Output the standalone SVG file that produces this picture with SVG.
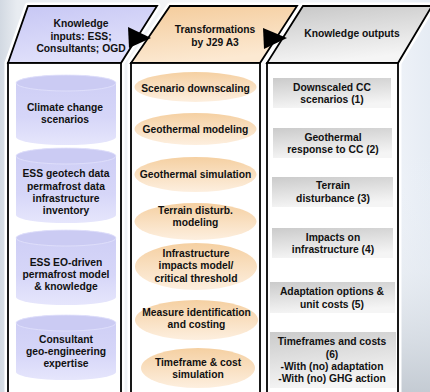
<svg xmlns="http://www.w3.org/2000/svg" width="430" height="392" viewBox="0 0 430 392">
<defs>
<linearGradient id="bg" x1="0" y1="0" x2="1" y2="0">
<stop offset="0" stop-color="#d2d9e2"/>
<stop offset="0.04" stop-color="#e8ecf1"/>
<stop offset="0.5" stop-color="#f6f7f9"/>
<stop offset="0.92" stop-color="#eef2f8"/>
<stop offset="1" stop-color="#e6ecf4"/>
</linearGradient>
<linearGradient id="rbg" x1="0" y1="0" x2="0" y2="1">
<stop offset="0" stop-color="#eef3fa" stop-opacity="0"/>
<stop offset="0.5" stop-color="#e4e9ef" stop-opacity="0.5"/>
<stop offset="1" stop-color="#c4cbd3"/>
</linearGradient>
<linearGradient id="top1" x1="0" y1="0" x2="0.4" y2="1">
<stop offset="0" stop-color="#c6c6f4"/>
<stop offset="1" stop-color="#e2e2fb"/>
</linearGradient>
<linearGradient id="top2" x1="0" y1="0" x2="0.3" y2="1">
<stop offset="0" stop-color="#f4cb9a"/>
<stop offset="1" stop-color="#fce9d2"/>
</linearGradient>
<linearGradient id="top3" x1="0" y1="0" x2="0.3" y2="1">
<stop offset="0" stop-color="#c6c6c6"/>
<stop offset="1" stop-color="#f5f5f5"/>
</linearGradient>
<linearGradient id="cyl" x1="0" y1="0" x2="0" y2="1">
<stop offset="0" stop-color="#cdcdf5"/>
<stop offset="0.6" stop-color="#d6d6f8"/>
<stop offset="1" stop-color="#e6e6fc"/>
</linearGradient>
<linearGradient id="ell" x1="0" y1="0" x2="0" y2="1">
<stop offset="0" stop-color="#f5d0a2"/>
<stop offset="1" stop-color="#fdefdf"/>
</linearGradient>
<linearGradient id="box" x1="0" y1="0" x2="0.25" y2="1">
<stop offset="0" stop-color="#cbcbcb"/>
<stop offset="1" stop-color="#f5f5f5"/>
</linearGradient>
</defs>
<style>
text{font-family:"Liberation Sans",Arial,sans-serif;font-weight:bold;font-size:10.3px;fill:#111;text-anchor:middle}
.halo{fill:#fff;stroke:#fff;stroke-width:7;stroke-linejoin:round}
.edge{stroke:#000;stroke-width:1.8;stroke-linejoin:miter}
.front{fill:#fff}
.cyl{fill:url(#cyl)}
.cyltop{fill:#cbcbf3;stroke:#e2e2fb;stroke-width:0.8}
.ell{fill:url(#ell)}
.box{fill:url(#box)}
.arrow{fill:#000}
</style>
<rect x="0" y="0" width="430" height="392" fill="url(#bg)"/>
<rect x="398" y="150" width="32" height="242" fill="url(#rbg)"/>

<g id="halos">
<polygon class="halo" points="28,6 157,6 121,63 121,400 8,400 8,63"/>
<polygon class="halo" points="170,6 297,6 260,63 260,400 131,400 131,63"/>
<polygon class="halo" points="303,6 432,6 398,63 398,400 267,400 267,63"/>
</g>

<g id="column-inputs">
<polygon class="edge" fill="url(#top1)" points="28,6 157,6 121,63 8,63"/>
<rect class="front edge" x="8" y="63" width="113" height="340"/>
<text x="81" y="27">Knowledge</text>
<text x="81" y="39.5">inputs: ESS;</text>
<text x="81" y="52">Consultants; OGD</text>
</g>

<g id="column-transformations">
<polygon class="edge" fill="url(#top2)" points="170,6 297,6 260,63 131,63"/>
<rect class="front edge" x="131" y="63" width="129" height="340"/>
<text x="215" y="33">Transformations</text>
<text x="215" y="46">by J29 A3</text>
</g>

<g id="column-outputs">
<polygon class="edge" fill="url(#top3)" points="303,6 432,6 398,63 267,63"/>
<rect class="front edge" x="267" y="63" width="131" height="340"/>
<text x="352" y="37">Knowledge outputs</text>
</g>

<g id="in-climate">
<path class="cyl" d="M16,83 A50,8 0 0 1 116,83 V137 A50,8 0 0 1 16,137 Z"/>
<ellipse class="cyltop" cx="66" cy="83" rx="50" ry="8"/>
<text x="65" y="111">Climate change</text>
<text x="65" y="123">scenarios</text>
</g>
<g id="in-geotech">
<path class="cyl" d="M16,156 A50,8 0 0 1 116,156 V215 A50,8 0 0 1 16,215 Z"/>
<ellipse class="cyltop" cx="66" cy="156" rx="50" ry="8"/>
<text x="66" y="177">ESS geotech data</text>
<text x="66" y="189.5">permafrost data</text>
<text x="66" y="202">infrastructure</text>
<text x="66" y="214">inventory</text>
</g>
<g id="in-eo">
<path class="cyl" d="M16,238 A50,8 0 0 1 116,238 V297 A50,8 0 0 1 16,297 Z"/>
<ellipse class="cyltop" cx="66" cy="238" rx="50" ry="8"/>
<text x="66" y="266">ESS EO-driven</text>
<text x="66" y="278">permafrost model</text>
<text x="66" y="290">&amp; knowledge</text>
</g>
<g id="in-consultant">
<path class="cyl" d="M16,323 A50,8 0 0 1 116,323 V372 A50,8 0 0 1 16,372 Z"/>
<ellipse class="cyltop" cx="66" cy="323" rx="50" ry="8"/>
<text x="66" y="343">Consultant</text>
<text x="66" y="355">geo-engineering</text>
<text x="66" y="367">expertise</text>
</g>

<g id="tr-downscaling">
<ellipse class="ell" cx="195.5" cy="87" rx="61" ry="15"/>
<text x="195.5" y="91.5">Scenario downscaling</text>
</g>
<g id="tr-geo-modeling">
<ellipse class="ell" cx="195.5" cy="129" rx="61" ry="16"/>
<text x="195.5" y="132.5">Geothermal modeling</text>
</g>
<g id="tr-geo-simulation">
<ellipse class="ell" cx="195.5" cy="174.5" rx="61" ry="17.5"/>
<text x="195.5" y="177.5">Geothermal simulation</text>
</g>
<g id="tr-terrain">
<ellipse class="ell" cx="195.5" cy="221.5" rx="61" ry="18.5"/>
<text x="195.5" y="213.5">Terrain disturb.</text>
<text x="195.5" y="226">modeling</text>
</g>
<g id="tr-infrastructure">
<ellipse class="ell" cx="196" cy="266.5" rx="61" ry="23.5"/>
<text x="196" y="256.5">Infrastructure</text>
<text x="196" y="269">impacts model/</text>
<text x="196" y="281.5">critical threshold</text>
</g>
<g id="tr-measure">
<ellipse class="ell" cx="196.5" cy="320" rx="61.5" ry="20"/>
<text x="196.5" y="315.5">Measure identification</text>
<text x="196.5" y="328">and costing</text>
</g>
<g id="tr-timeframe">
<ellipse class="ell" cx="198" cy="368" rx="57" ry="20"/>
<text x="198" y="365.5">Timeframe &amp; cost</text>
<text x="198" y="378">simulation</text>
</g>

<g id="out-1">
<rect class="box" x="273" y="78" width="118" height="30"/>
<text x="332" y="90.5">Downscaled CC</text>
<text x="332" y="102.5">scenarios (1)</text>
</g>
<g id="out-2">
<rect class="box" x="273" y="128" width="119" height="30"/>
<text x="333" y="140.5">Geothermal</text>
<text x="333" y="153">response to CC (2)</text>
</g>
<g id="out-3">
<rect class="box" x="272" y="177" width="121" height="30"/>
<text x="333" y="189">Terrain</text>
<text x="333" y="202">disturbance (3)</text>
</g>
<g id="out-4">
<rect class="box" x="272" y="228" width="121" height="30"/>
<text x="333" y="240.5">Impacts on</text>
<text x="333" y="253">infrastructure (4)</text>
</g>
<g id="out-5">
<rect class="box" x="270" y="282" width="125" height="31"/>
<text x="332" y="295">Adaptation options &amp;</text>
<text x="332" y="307.5">unit costs (5)</text>
</g>
<g id="out-6">
<rect class="box" x="270" y="332" width="126" height="56"/>
<text x="332" y="345">Timeframes and costs</text>
<text x="332" y="357.5">(6)</text>
<text x="332" y="370">-With (no) adaptation</text>
<text x="332" y="382">-With (no) GHG action</text>
</g>

<g id="connectors">
<polygon class="arrow" points="128,27 151,38 129,48"/>
<polygon class="arrow" points="263,28 287,38 264,49"/>
</g>
</svg>
